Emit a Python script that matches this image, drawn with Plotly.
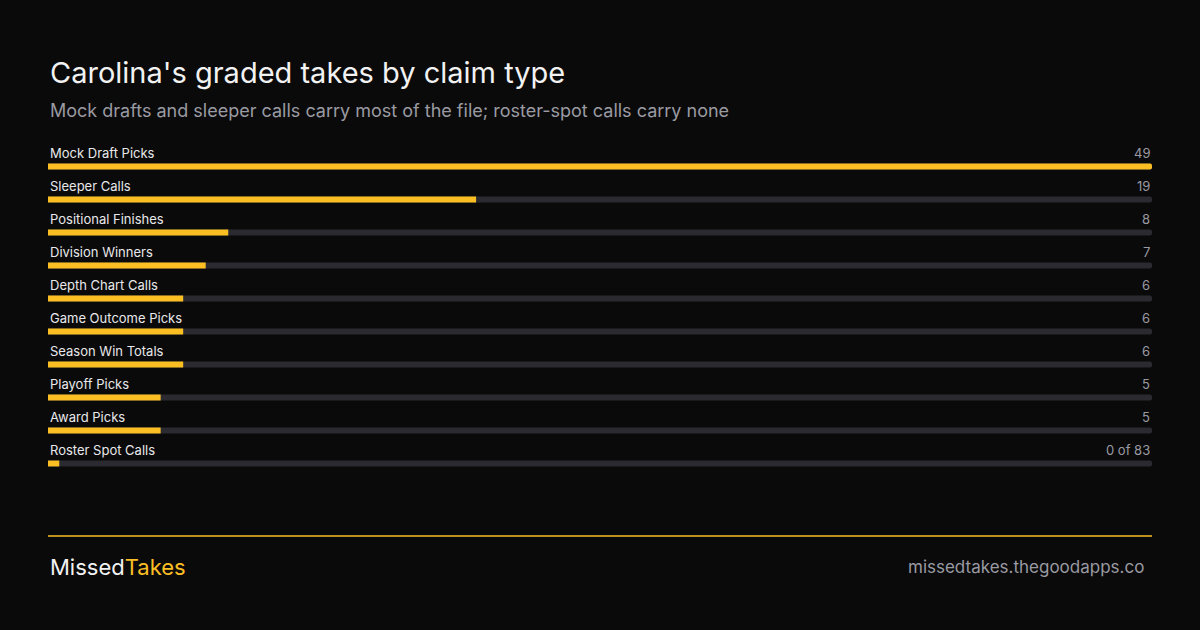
import plotly.graph_objects as go

categories = ["Mock Draft Picks", "Sleeper Calls", "Positional Finishes", "Division Winners",
              "Depth Chart Calls", "Game Outcome Picks", "Season Win Totals", "Playoff Picks",
              "Award Picks", "Roster Spot Calls"]
counts = [49, 19, 8, 7, 6, 6, 6, 5, 5, 0]
value_labels = ["49", "19", "8", "7", "6", "6", "6", "5", "5", "0 of 83"]
max_count = 49
min_stub = 0.5  # zero-count rows still show a tiny stub

BG = "#0a0a0a"
YELLOW = "#fbbf24"
TRACK = "#2a2a30"
GRAY = "#9a9aa2"

rows = list(range(len(categories)))
shown = [max(c, min_stub) for c in counts]

fig = go.Figure()
fig.add_trace(go.Bar(x=[max_count] * len(rows), y=rows, orientation="h", width=0.18,
                     marker=dict(color=TRACK, cornerradius=3, line=dict(width=0)), hoverinfo="skip"))
fig.add_trace(go.Bar(x=shown, y=rows, orientation="h", width=0.18,
                     marker=dict(color=YELLOW, cornerradius=3, line=dict(width=0)),
                     customdata=counts, hovertemplate="%{customdata}<extra></extra>"))

ann = []
for i, (cat, lab) in enumerate(zip(categories, value_labels)):
    ann.append(dict(x=0, xref="paper", y=i - 0.424, yref="y", text=cat, showarrow=False,
                    xanchor="left", yanchor="middle", font=dict(size=13, color="#e8e8ea")))
    ann.append(dict(x=1, xref="paper", y=i - 0.424, yref="y", text=lab, showarrow=False,
                    xanchor="right", yanchor="middle", font=dict(size=13, color=GRAY)))

def py(px):
    return (480 - px) / 330

ann += [
    dict(x=0, xref="paper", y=py(72), yref="paper", text="Carolina's graded takes by claim type",
         showarrow=False, xanchor="left", yanchor="middle", font=dict(size=29, color="#f2f2f2")),
    dict(x=0, xref="paper", y=py(110), yref="paper",
         text="Mock drafts and sleeper calls carry most of the file; roster-spot calls carry none",
         showarrow=False, xanchor="left", yanchor="middle", font=dict(size=18, color=GRAY)),
    dict(x=0, xref="paper", y=py(567), yref="paper",
         text="Missed<span style='color:%s'>Takes</span>" % YELLOW,
         showarrow=False, xanchor="left", yanchor="middle", font=dict(size=22, color="#f2f2f2")),
    dict(x=0.995, xref="paper", y=py(567), yref="paper", text="missedtakes.thegoodapps.co",
         showarrow=False, xanchor="right", yanchor="middle", font=dict(size=17, color=GRAY)),
]

fig.update_layout(
    width=1200, height=630, paper_bgcolor=BG, plot_bgcolor=BG,
    margin=dict(l=48, r=48, t=150, b=150), barmode="overlay", showlegend=False,
    font=dict(family="Inter, sans-serif"),
    xaxis=dict(range=[0, max_count], visible=False, fixedrange=True),
    yaxis=dict(range=[9.5, -0.5], visible=False, fixedrange=True),
    annotations=ann,
    shapes=[dict(type="line", xref="paper", yref="paper", x0=0, x1=1, y0=py(536), y1=py(536),
                 line=dict(color=YELLOW, width=1.5))],
)

fig.write_html("out.html", config={"displayModeBar": False},
               post_script="document.body.style.margin='0';document.body.style.background='%s';" % BG)
